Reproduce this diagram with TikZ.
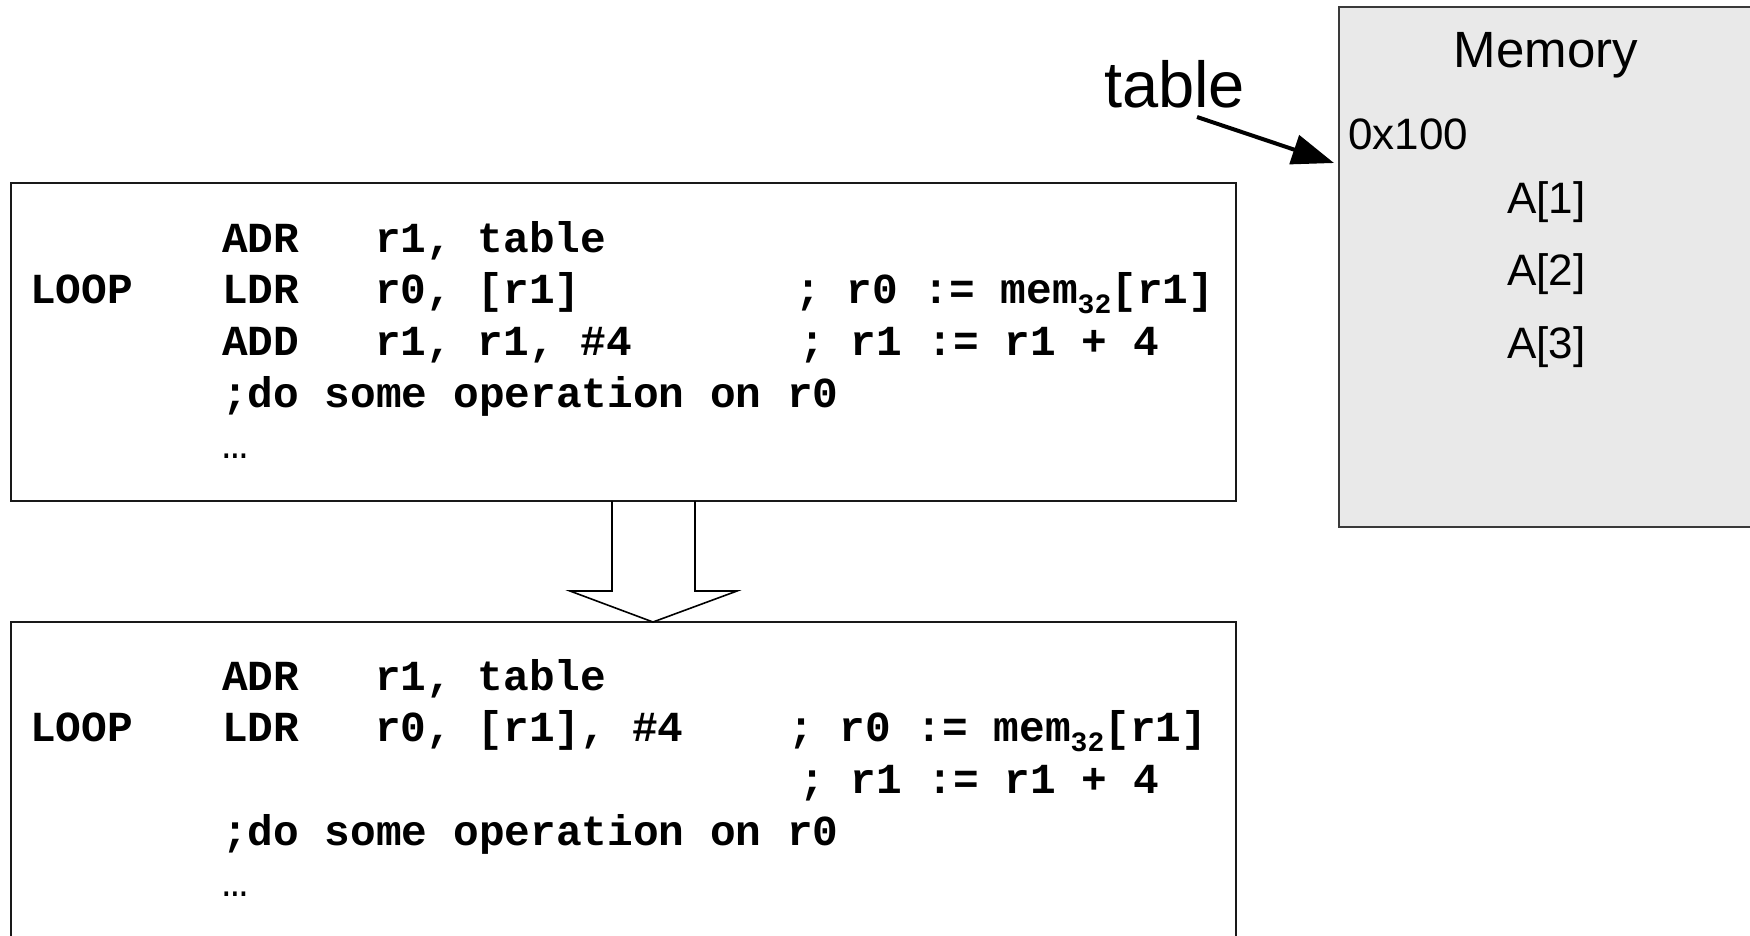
\documentclass[tikz,border=0pt]{standalone}
\usepackage{fontspec}
\setmainfont{Liberation Sans}
\newfontfamily\codefont{Liberation Mono}
\usetikzlibrary{arrows.meta}
\definecolor{memfill}{HTML}{E9E9E9}
\definecolor{memline}{HTML}{3A3A3A}
\newcommand\subsc[1]{\raisebox{-10pt}{\fontsize{28}{28}\selectfont #1}}
\tikzset{
  code/.style={anchor=base west, inner sep=0pt, font=\codefont\bfseries\fontsize{42.8}{50}\selectfont},
  memtext/.style={anchor=base west, inner sep=0pt, font=\fontsize{44}{50}\selectfont},
  codebox/.style={draw=black!90, line width=2pt},
  blockarrow/.style={draw=black, line width=1.6pt, line join=miter},
  ptr/.style={line width=4pt, -{Triangle[length=42pt,width=30pt]}}
}
\begin{document}
\begin{tikzpicture}[x=1pt,y=-1pt]
\useasboundingbox (0,0) rectangle (1750,935);
% memory box
\draw[fill=memfill, draw=memline, line width=1.8pt] (1339,7) rectangle (1770,527);
\node[anchor=base, inner sep=0pt, font=\fontsize{51}{56}\selectfont] (memtitle) at (1546,67) {Memory};
\node[memtext] (addr) at (1348,149) {0x100};
\node[memtext] (a1) at (1507,213) {A[1]};
\node[memtext] (a2) at (1507,285) {A[2]};
\node[memtext] (a3) at (1507,358) {A[3]};
% table label and pointer
\node[anchor=base west, inner sep=0pt, font=\fontsize{65}{70}\selectfont] (table) at (1104,107) {table};
\coordinate (tabstart) at (1197,117);
\coordinate (tabend) at (1334,163);
\draw[ptr] (tabstart) -- (tabend);
% code boxes
\draw[codebox] (11,183) rectangle (1236,501);
\draw[codebox] (11,960) -- (11,622) -- (1236,622) -- (1236,960);
\coordinate (b1bot) at (653,501);
\coordinate (b2top) at (653,622);
% block arrow
\draw[blockarrow] (612,501) -- (612,591) -- (570,591) -- (b2top) -- (737,591) -- (695,591) -- (695,501);
% box 1 text
\node[code] (b1m1) at (222,252) {ADR};
\node[code] (b1o1) at (375,252) {r1, table};
\node[code] (b1lab) at (30,303) {LOOP};
\node[code] (b1m2) at (222,303) {LDR};
\node[code] (b1o2) at (375,303) {r0, [r1]};
\node[code] (b1c2) at (795,303) {; r0 := mem\subsc{32}[r1]};
\node[code] (b1m3) at (222,355) {ADD};
\node[code] (b1o3) at (375,355) {r1, r1, \#4};
\node[code] (b1c3) at (799,355) {; r1 := r1 + 4};
\node[code] (b1l4) at (222,407) {;do some operation on r0};
\node[code] (b1l5) at (222,458) {\mdseries …};
% box 2 text
\node[code] (b2m1) at (222,690) {ADR};
\node[code] (b2o1) at (375,690) {r1, table};
\node[code] (b2lab) at (30,741) {LOOP};
\node[code] (b2m2) at (222,741) {LDR};
\node[code] (b2o2) at (375,741) {r0, [r1], \#4};
\node[code] (b2c2) at (788,741) {; r0 := mem\subsc{32}[r1]};
\node[code] (b2c3) at (799,793) {; r1 := r1 + 4};
\node[code] (b2l4) at (222,845) {;do some operation on r0};
\node[code] (b2l5) at (222,896) {\mdseries …};
\end{tikzpicture}
\end{document}
